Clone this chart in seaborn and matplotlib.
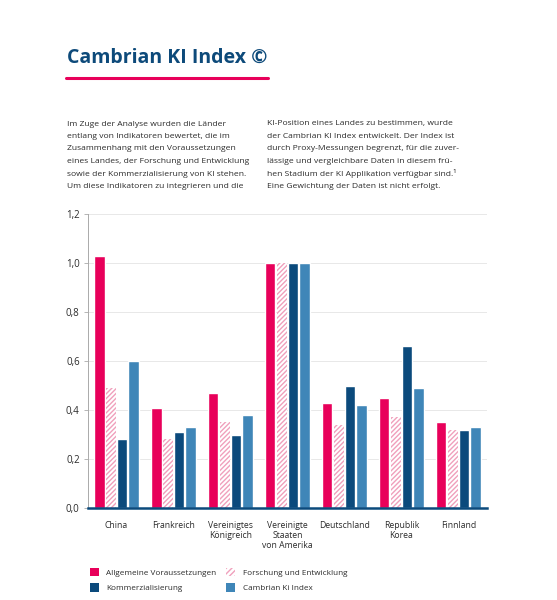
import pandas as pd
import numpy as np
import matplotlib
matplotlib.use("Agg")
import matplotlib.pyplot as plt
import seaborn as sns
from matplotlib.patches import Patch

countries = ["China", "Frankreich", "Vereinigtes\nKönigreich", "Vereinigte\nStaaten\nvon Amerika",
             "Deutschland", "Republik\nKorea", "Finnland"]
series = ["Allgemeine Voraussetzungen", "Forschung und Entwicklung",
          "Kommerzialisierung", "Cambrian Ki Index"]
allgemein = [1.03, 0.41, 0.47, 1.00, 0.43, 0.45, 0.35]
forschung = [0.49, 0.28, 0.35, 1.00, 0.34, 0.37, 0.32]
kommerz = [0.28, 0.31, 0.30, 1.00, 0.50, 0.66, 0.32]
index_ki = [0.60, 0.33, 0.38, 1.00, 0.42, 0.49, 0.33]
yticks = [0.0, 0.2, 0.4, 0.6, 0.8, 1.0, 1.2]

left_lines = ["Im Zuge der Analyse wurden die Länder",
              "entlang von Indikatoren bewertet, die im",
              "Zusammenhang mit den Voraussetzungen",
              "eines Landes, der Forschung und Entwicklung",
              "sowie der Kommerzialisierung von KI stehen.",
              "Um diese Indikatoren zu integrieren und die"]
right_lines = ["KI-Position eines Landes zu bestimmen, wurde",
               "der Cambrian KI Index entwickelt. Der Index ist",
               "durch Proxy-Messungen begrenzt, für die zuver-",
               "lässige und vergleichbare Daten in diesem frü-",
               "hen Stadium der KI Applikation verfügbar sind.¹",
               "Eine Gewichtung der Daten ist nicht erfolgt."]

pink = "#e8005a"
pink_light = "#f0a0bc"
navy = "#0b4a7c"
blue = "#3f86b8"
text_col = "#2b2b2b"

df = pd.DataFrame({
    "Land": countries * 4,
    "Reihe": [s for s in series for _ in countries],
    "Wert": allgemein + forschung + kommerz + index_ki,
})

sns.set_theme(style="white")
plt.rcParams["font.family"] = ["Open Sans", "DejaVu Sans"]
plt.rcParams["hatch.linewidth"] = 1.0

fig = plt.figure(figsize=(5.57, 6.0), dpi=100)
ax = fig.add_axes([0.158, 0.1533, 0.716, 0.49])

sns.barplot(data=df, x="Land", y="Wert", hue="Reihe", hue_order=series,
            palette=[pink, pink_light, navy, blue], width=0.8, gap=0.1,
            ax=ax, legend=False, saturation=1)

# schraffierte Balken für Forschung und Entwicklung
for p in ax.containers[1]:
    p.set_facecolor("white")
    p.set_edgecolor(pink_light)
    p.set_linewidth(0)
    p.set_hatch("///////")

ax.set_ylim(0, 1.2)
ax.set_xlim(-0.5, len(countries) - 0.5)
ax.set_yticks(yticks)
ax.set_yticklabels([f"{v:.1f}".replace(".", ",") for v in yticks], fontsize=7, color=text_col)
ax.set_xticks(range(len(countries)))
ax.set_xticklabels(countries, fontsize=6.2, color=text_col, linespacing=1.2)
ax.set_xticks(np.arange(-0.5, len(countries), 1.0), minor=True)
ax.tick_params(axis="x", which="major", length=0, pad=9)
ax.tick_params(axis="x", which="minor", length=3, width=1, color=navy, direction="in")
ax.tick_params(axis="y", length=3, width=0.6, color="#aaaaaa", pad=3, left=True)
ax.set_xlabel("")
ax.set_ylabel("")
ax.grid(axis="y", color="#e8e8e8", linewidth=0.7)
ax.set_axisbelow(True)
for s in ["top", "right"]:
    ax.spines[s].set_visible(False)
ax.spines["left"].set_color("#aaaaaa")
ax.spines["left"].set_linewidth(0.7)
ax.spines["bottom"].set_color(navy)
ax.spines["bottom"].set_linewidth(1.8)

# Titel mit Unterstrich
fig.text(67 / 557, 1 - 58 / 600, "Cambrian KI Index ©", fontsize=14, fontweight="bold",
         color="#0d4a7a", va="center", ha="left")
fig.add_artist(plt.Line2D([66 / 557, 268 / 557], [1 - 78 / 600, 1 - 78 / 600],
                          color=pink, linewidth=2.2, transform=fig.transFigure))

# Fließtext in zwei Spalten, Zeile für Zeile
for i, (l, r) in enumerate(zip(left_lines, right_lines)):
    y = 1 - (124 + i * 12.5) / 600
    fig.text(67 / 557, y, l, fontsize=6.1, color=text_col, va="center", ha="left")
    fig.text(267 / 557, y, r, fontsize=6.1, color=text_col, va="center", ha="left")

handles = [Patch(facecolor=pink, edgecolor="none"),
           Patch(facecolor=navy, edgecolor="none"),
           Patch(facecolor="white", edgecolor=pink_light, hatch="//////", linewidth=0),
           Patch(facecolor=blue, edgecolor="none")]
labels = [series[0], series[2], series[1], series[3]]
fig.legend(handles, labels, loc="upper left", bbox_to_anchor=(0.148, 0.066), ncol=2,
           frameon=False, fontsize=5.9, handlelength=1.1, handleheight=1.25,
           handletextpad=0.9, columnspacing=1.2, labelspacing=0.75,
           labelcolor=text_col)

fig.savefig("out.png", dpi=100)
